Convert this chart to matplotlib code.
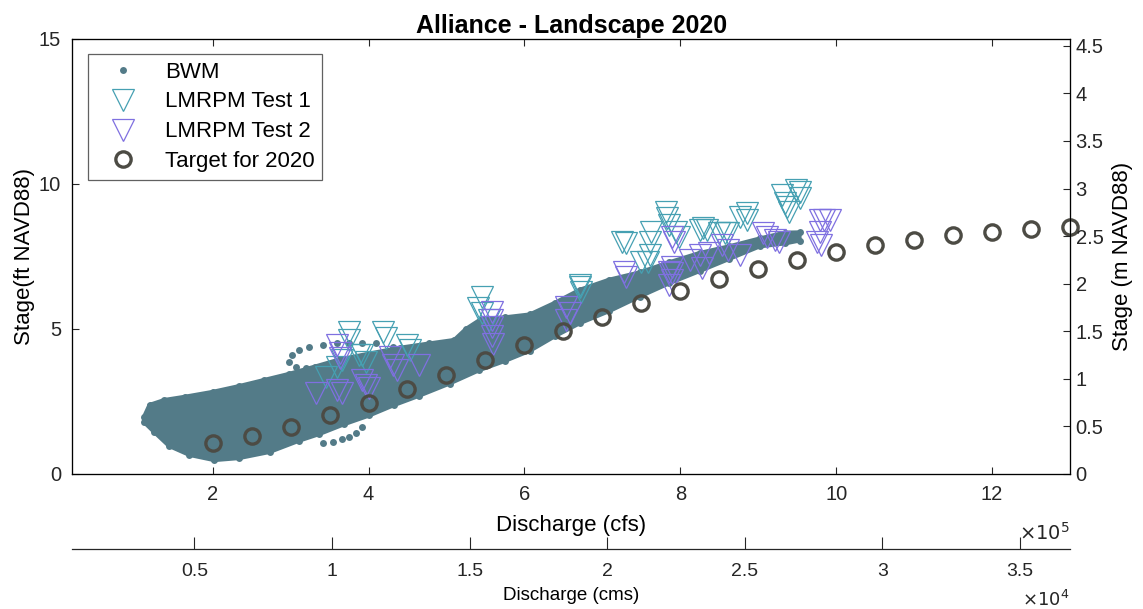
"""Alliance - Landscape 2020 stage/discharge comparison (BWM vs LMRPM tests vs target)."""
import matplotlib
matplotlib.use("Agg")
import matplotlib.pyplot as plt

plt.rcParams['font.family'] = ['Liberation Sans', 'DejaVu Sans']

E5 = 1e5           # discharge values below are in units of 1e5 cfs
CFS_PER_CMS = 35.3147
M_PER_FT = 0.3048

# --- BWM cloud: outline of the dense region (upper edge then lower edge) ---
bwm_edge_x = [1.12, 1.19, 1.38, 1.64, 2.00, 2.34, 2.66, 2.98, 3.31, 3.63, 4.01, 4.40,
              4.78, 5.10, 5.25, 5.45, 5.75, 6.07, 6.39, 6.71, 7.09, 7.48, 7.86, 8.25,
              8.63, 9.02, 9.34, 9.53,
              9.53, 9.34, 9.02, 8.63, 8.25, 7.86, 7.48, 7.09, 6.71, 6.39, 6.07, 5.75,
              5.42, 5.04, 4.65, 4.33, 4.01, 3.69, 3.37, 3.11, 2.73, 2.34, 2.02, 1.70,
              1.44, 1.25, 1.12]
bwm_edge_y = [1.97, 2.38, 2.55, 2.66, 2.83, 3.03, 3.24, 3.45, 3.70, 3.95, 4.15, 4.35,
              4.50, 4.62, 5.00, 5.35, 5.40, 5.50, 5.90, 6.35, 6.70, 6.95, 7.30, 7.62,
              7.85, 8.12, 8.32, 8.33,
              8.05, 7.95, 7.85, 7.42, 7.00, 6.58, 6.12, 5.62, 5.20, 4.75, 4.25, 3.90,
              3.58, 3.12, 2.70, 2.38, 2.02, 1.72, 1.38, 1.15, 0.76, 0.55, 0.48, 0.66,
              0.97, 1.45, 1.79]
# sparse dotted loops outside the dense region
bwm_loop_x = [3.02, 3.11, 3.24, 3.41, 3.59, 3.75, 3.92, 4.10, 4.31, 4.49, 4.69,
              2.98, 3.07, 3.20, 3.33,
              3.41, 3.54, 3.66, 3.75, 3.84, 3.91]
bwm_loop_y = [4.10, 4.28, 4.38, 4.45, 4.52, 4.52, 4.52, 4.52, 4.38, 4.28, 4.21,
              3.86, 3.69, 3.66, 3.66,
              1.07, 1.10, 1.21, 1.28, 1.41, 1.62]

# --- LMRPM Test 1 ---
t1_x = [3.75, 3.75, 4.18, 4.23, 4.49, 4.53, 3.92, 3.88, 3.66, 3.59, 3.46, 3.97,
        5.45, 5.40, 5.46, 5.55, 7.25, 7.31, 7.58, 6.71, 6.73, 7.63, 7.61, 7.61,
        7.50, 7.82, 7.83, 7.86, 7.95, 7.99, 8.29, 8.34, 8.57, 8.76, 8.85, 8.86,
        8.61, 9.31, 9.34, 9.40, 9.49, 9.53, 9.53, 9.37, 6.71, 8.25, 8.50]
t1_y = [4.90, 4.62, 4.90, 4.69, 4.45, 4.28, 4.10, 4.10, 3.93, 3.69, 3.34, 3.86,
        6.10, 5.72, 5.55, 5.31, 8.00, 7.97, 7.31, 6.52, 6.28, 8.34, 8.00, 7.55,
        7.31, 9.03, 8.83, 8.59, 8.34, 8.17, 8.48, 8.41, 8.31, 8.86, 8.76, 9.00,
        8.31, 9.62, 9.34, 9.03, 9.79, 9.72, 9.52, 9.21, 6.45, 8.41, 8.31]

# --- LMRPM Test 2 ---
t2_x = [3.59, 3.63, 3.63, 3.33, 3.59, 3.66, 3.92, 3.97, 4.01, 4.27, 4.31, 4.36,
        4.65, 5.59, 5.58, 5.59, 5.59, 5.60, 6.54, 6.58, 6.54, 7.28, 7.31, 7.90,
        7.90, 7.89, 7.92, 7.86, 7.89, 7.86, 8.12, 8.25, 8.28, 8.54, 8.61, 8.76,
        8.37, 9.06, 9.11, 9.21, 9.27, 9.79, 9.85, 9.92, 9.79, 9.75, 9.81]
t2_y = [4.45, 4.17, 4.00, 2.79, 2.90, 2.79, 3.24, 3.07, 2.97, 4.03, 3.76, 3.59,
        3.76, 5.59, 5.31, 5.07, 4.76, 4.48, 5.76, 5.55, 5.31, 6.97, 6.79, 7.14,
        6.93, 8.17, 8.00, 6.97, 6.69, 6.52, 7.38, 7.55, 7.10, 7.90, 7.72, 7.55,
        7.62, 8.31, 8.17, 8.07, 8.00, 8.76, 8.76, 8.76, 8.34, 8.00, 7.90]

# --- Target for 2020 ---
target_x = [2.0, 2.5, 3.0, 3.5, 4.0, 4.5, 5.0, 5.5, 6.0, 6.5, 7.0, 7.5, 8.0, 8.5,
            9.0, 9.5, 10.0, 10.5, 11.0, 11.5, 12.0, 12.5, 13.0]
target_y = [1.08, 1.30, 1.61, 2.03, 2.46, 2.92, 3.41, 3.93, 4.45, 4.93, 5.43, 5.89,
            6.31, 6.72, 7.06, 7.38, 7.66, 7.89, 8.07, 8.24, 8.36, 8.45, 8.53]

XLIM = (0.2, 13.0)
cfs_ticks = [2, 4, 6, 8, 10, 12]
cms_ticks = [0.5, 1, 1.5, 2, 2.5, 3, 3.5]      # x 1e4 cms
m_ticks = [0, 0.5, 1, 1.5, 2, 2.5, 3, 3.5, 4, 4.5]

BWM_C = '#537b88'; T1_C = '#46a0b2'; T2_C = '#7f70e0'; TG_C = '#4c4b44'; SP = '#262626'

fig = plt.figure(figsize=(11.43, 6.09), dpi=100)
ax = fig.add_axes([0.0633, 0.2217, 0.8728, 0.7143])

ax.fill([x * E5 for x in bwm_edge_x], bwm_edge_y, color=BWM_C, lw=3, ec=BWM_C, zorder=1)
ax.plot([x * E5 for x in bwm_edge_x], bwm_edge_y, 'o', color=BWM_C, ms=5, mew=0,
        label='BWM', zorder=1)
ax.plot([x * E5 for x in bwm_loop_x], bwm_loop_y, 'o', color=BWM_C, ms=5, mew=0, zorder=1)
ax.plot([x * E5 for x in t1_x], t1_y, 'v', mfc='none', mec=T1_C, ms=16, mew=0.9,
        ls='none', label='LMRPM Test 1', zorder=2)
ax.plot([x * E5 for x in t2_x], t2_y, 'v', mfc='none', mec=T2_C, ms=16, mew=0.9,
        ls='none', label='LMRPM Test 2', zorder=3)
ax.plot([x * E5 for x in target_x], target_y, 'o', mfc='none', mec=TG_C, ms=11, mew=2.4,
        ls='none', label='Target for 2020', zorder=4, clip_on=False)

ax.set_xlim(XLIM[0] * E5, XLIM[1] * E5)
ax.set_ylim(0, 15)
ax.set_xticks([t * E5 for t in cfs_ticks])
ax.set_xticklabels([str(t) for t in cfs_ticks])
ax.set_yticks([0, 5, 10, 15])
ax.tick_params(direction='in', top=True, length=5, width=0.8, labelsize=14.5,
               colors=SP, pad=8)
for s in ax.spines.values():
    s.set_color(SP); s.set_linewidth(0.9)
ax.set_xlabel('Discharge (cfs)', fontsize=16, labelpad=8)
ax.set_ylabel('Stage(ft NAVD88)', fontsize=16, labelpad=3)
ax.set_title('Alliance - Landscape 2020', fontsize=18, fontweight='bold', pad=4)
ax.text(1.0, -0.135, r'$\times10^5$', transform=ax.transAxes, ha='right', va='center',
        fontsize=14, color=SP)

leg = ax.legend(loc='upper left', bbox_to_anchor=(0.016, 0.966), fontsize=16,
                frameon=True, fancybox=False, edgecolor='#3a3a3a', handlelength=2.4,
                borderpad=0.35, labelspacing=0.4, handletextpad=0.7, borderaxespad=0)
leg.get_frame().set_linewidth(0.9)

# right-hand metre axis
axr = ax.twinx()
axr.set_ylim(0, 15 * M_PER_FT)
axr.set_yticks(m_ticks)
axr.set_yticklabels([f'{t:g}' for t in m_ticks])
axr.tick_params(direction='in', length=5, width=0.8, labelsize=14.5, colors=SP, pad=4)
axr.set_ylabel('Stage (m NAVD88)', fontsize=16, labelpad=6)

# lower cms axis
ax2 = fig.add_axes([0.0633, 0.098, 0.8728, 0.0001])
ax2.set_xlim(XLIM[0] * E5 / CFS_PER_CMS, XLIM[1] * E5 / CFS_PER_CMS)
ax2.set_xticks([t * 1e4 for t in cms_ticks])
ax2.set_xticklabels([f'{t:g}' for t in cms_ticks])
ax2.set_yticks([])
for k in ('left', 'right', 'top'):
    ax2.spines[k].set_visible(False)
ax2.spines['bottom'].set_color(SP); ax2.spines['bottom'].set_linewidth(0.9)
ax2.tick_params(direction='in', length=9, width=0.8, labelsize=14, colors=SP, pad=10)
ax2.set_xlabel('Discharge (cms)', fontsize=13.5, labelpad=5)
fig.text(0.936, 1 - 600 / 609, r'$\times10^4$', ha='right', va='center',
         fontsize=13, color=SP)

fig.savefig('out.png', dpi=100)
